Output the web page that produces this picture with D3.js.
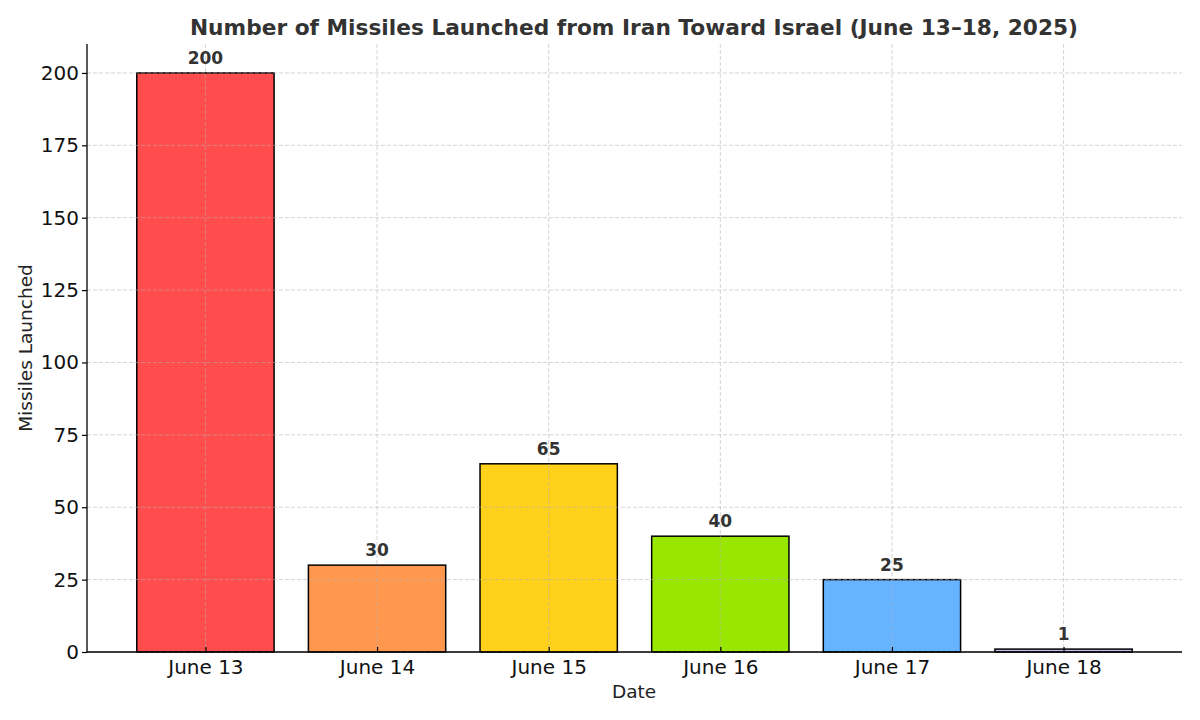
<!DOCTYPE html>
<html>
<head>
<meta charset="utf-8">
<script src="https://cdn.jsdelivr.net/npm/d3@7"></script>
<style>
  body { margin: 0; background: #fff; }
  text { font-family: "DejaVu Sans", sans-serif; }
</style>
</head>
<body>
<svg id="chart" width="1200" height="720"></svg>
<script>
var dates = ["June 13", "June 14", "June 15", "June 16", "June 17", "June 18"],
    missiles = [200, 30, 65, 40, 25, 1],
    barColors = ["#ff4c4c", "#ff974f", "#ffd11a", "#99e600", "#66b3ff", "#c2c2f0"],
    yTicks = [0, 25, 50, 75, 100, 125, 150, 175, 200];

var svg = d3.select("#chart"),
    mLeft = 87, mRight = 1182, mTop = 44, mBottom = 652;

var x = d3.scaleLinear().domain([-0.69, dates.length - 1 + 0.69]).range([mLeft, mRight]),
    y = d3.scaleLinear().domain([0, 210]).range([mBottom, mTop]),
    barW = x(0.8) - x(0);

// bars
svg.append("g").selectAll("rect")
    .data(missiles)
    .enter().append("rect")
    .attr("x", function(d, i) { return x(i) - barW / 2; })
    .attr("y", function(d) { return y(d); })
    .attr("width", barW)
    .attr("height", function(d) { return y(0) - y(d); })
    .attr("fill", function(d, i) { return barColors[i]; })
    .attr("stroke", "#000")
    .attr("stroke-width", 1.5);

// grid on top of bars
var grid = svg.append("g")
    .attr("stroke", "#b0b0b0")
    .attr("stroke-opacity", 0.6)
    .attr("stroke-width", 0.9)
    .attr("stroke-dasharray", "4,2");
grid.selectAll(".gy").data(yTicks).enter().append("line")
    .attr("x1", mLeft).attr("x2", mRight)
    .attr("y1", function(d) { return y(d); })
    .attr("y2", function(d) { return y(d); });
grid.selectAll(".gx").data(dates).enter().append("line")
    .attr("y1", mTop).attr("y2", mBottom)
    .attr("x1", function(d, i) { return x(i); })
    .attr("x2", function(d, i) { return x(i); });

// axes
var yAxis = d3.axisLeft(y).tickValues(yTicks).tickSize(5).tickPadding(3);
var yg = svg.append("g").attr("transform", "translate(" + mLeft + ",0)").call(yAxis);
yg.select(".domain").attr("d", "M0," + mTop + "V" + mBottom).attr("stroke-width", 1.3);
yg.selectAll(".tick line").attr("stroke-width", 1.2);
yg.selectAll("text").attr("font-size", 20).attr("fill", "#111")
    .attr("font-family", "DejaVu Sans");

var xAxis = d3.axisBottom(x).tickValues(d3.range(dates.length))
    .tickFormat(function(i) { return dates[i]; }).tickSize(0).tickPadding(8);
var xg = svg.append("g").attr("transform", "translate(0," + mBottom + ")").call(xAxis);
xg.select(".domain").attr("d", "M" + mLeft + ",0H" + mRight).attr("stroke-width", 1.3);
xg.selectAll(".tick line").attr("y2", -5).attr("stroke-width", 1.2);
xg.selectAll("text").attr("font-size", 20).attr("fill", "#111")
    .attr("font-family", "DejaVu Sans");

// value labels
svg.append("g").selectAll("text")
    .data(missiles)
    .enter().append("text")
    .attr("x", function(d, i) { return x(i); })
    .attr("y", function(d) { return y(d) - 9; })
    .attr("text-anchor", "middle")
    .attr("font-size", 17)
    .attr("font-weight", "bold")
    .attr("fill", "#333")
    .text(function(d) { return d; });

// titles
svg.append("text")
    .attr("x", 634).attr("y", 35)
    .attr("text-anchor", "middle")
    .attr("font-size", 21.7)
    .attr("font-weight", "bold")
    .attr("fill", "#333")
    .text("Number of Missiles Launched from Iran Toward Israel (June 13\u201318, 2025)");

svg.append("text")
    .attr("x", 634).attr("y", 698)
    .attr("text-anchor", "middle")
    .attr("font-size", 18.5)
    .attr("fill", "#222")
    .text("Date");

svg.append("text")
    .attr("transform", "translate(32," + ((mTop + mBottom) / 2) + ") rotate(-90)")
    .attr("text-anchor", "middle")
    .attr("font-size", 18.5)
    .attr("fill", "#222")
    .text("Missiles Launched");
</script>
</body>
</html>
